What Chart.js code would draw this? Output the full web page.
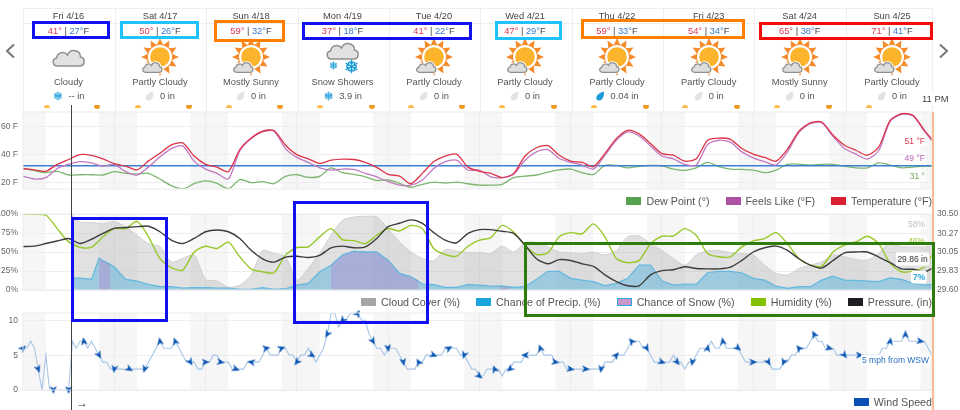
<!DOCTYPE html>
<html>
<head>
<meta charset="utf-8">
<script src="https://cdn.jsdelivr.net/npm/chart.js@4/dist/chart.umd.min.js"></script>
<style>
  html, body { margin: 0; padding: 0; background: #fff; }
  body { width: 960px; height: 410px; position: relative; overflow: hidden; font-family: "Liberation Sans", Arial, sans-serif; color: #555; }
  canvas { position: absolute; left: 0; }
  .abs { position: absolute; }
  .rule { position: absolute; background: #eeeeee; }
  .c { position: absolute; transform: translateX(-50%); white-space: nowrap; font-size: 9.3px; text-align: center; line-height: 12px; }
  .legend { position: absolute; right: 28px; display: flex; gap: 16px; font-size: 10.7px; line-height: 12px; white-space: nowrap; color: #555; }
  .legend span { display: flex; align-items: center; gap: 5px; }
  .legend i { display: block; width: 15px; height: 8px; box-sizing: border-box; }
  .tag { position: absolute; font-size: 8.5px; line-height: 11px; white-space: nowrap; background: rgba(255,255,255,.8); padding: 0 1px; transform: translateY(-50%); }
  .box { position: absolute; box-sizing: border-box; border: 3px solid; }
</style>
</head>
<body>
<script>
// top row
const days = ['Fri 4/16', 'Sat 4/17', 'Sun 4/18', 'Mon 4/19', 'Tue 4/20', 'Wed 4/21', 'Thu 4/22', 'Fri 4/23', 'Sat 4/24', 'Sun 4/25'];
const highs = [41, 50, 59, 37, 41, 47, 59, 54, 65, 71];
const lows = [27, 26, 32, 18, 22, 29, 33, 34, 38, 41];
const conditions = ['Cloudy', 'Partly Cloudy', 'Mostly Sunny', 'Snow Showers', 'Partly Cloudy', 'Partly Cloudy', 'Partly Cloudy', 'Partly Cloudy', 'Mostly Sunny', 'Partly Cloudy'];
const precip = ['-- in', '0 in', '0 in', '3.9 in', '0 in', '0 in', '0.04 in', '0 in', '0 in', '0 in'];
const precipKind = ['snow', 'none', 'none', 'snow', 'none', 'none', 'rain', 'none', 'none', 'none'];
const skyIcon = ['cloud', 'sun', 'sun', 'snow', 'sun', 'sun', 'sun', 'sun', 'sun', 'sun'];

// hours since midnight Fri, one reading every 3 hours
const hours = [0, 3, 6, 9, 12, 15, 18, 21, 24, 27,
  30, 33, 36, 39, 42, 45, 48, 51, 54, 57,
  60, 63, 66, 69, 72, 75, 78, 81, 84, 87,
  90, 93, 96, 99, 102, 105, 108, 111, 114, 117,
  120, 123, 126, 129, 132, 135, 138, 141, 144, 147,
  150, 153, 156, 159, 162, 165, 168, 171, 174, 177,
  180, 183, 186, 189, 192, 195, 198, 201, 204, 207,
  210, 213, 216, 219, 222, 225, 228, 231, 234, 237, 239];

const temperature = [30, 29, 28, 33, 36.5, 40, 39.5, 37, 33.5, 31.7,
  29, 35.5, 41, 47, 48.5, 39, 33, 31, 27.7, 43.7,
  52, 57, 57.4, 47, 40, 37, 33.7, 36, 36.8, 36.5,
  34.4, 30.8, 25.7, 24.5, 19, 26.5, 35, 39, 40.4, 31,
  28, 26.5, 23.4, 26.5, 39, 45, 46.6, 39.6, 35.3, 34.4,
  31.3, 40.8, 51.6, 57.6, 55, 48, 40.8, 39.6, 35.3, 37,
  50.4, 52, 51, 44.4, 40.4, 38, 35.3, 44, 57, 63,
  63.6, 54, 46.8, 43.2, 39.6, 45.6, 64.8, 69.6, 68.4, 57.6, 51];

const feelsLike = [24.3, 22.4, 23.4, 30, 33, 35, 34, 31.7, 33, 27.7,
  25.3, 31, 38.4, 44.4, 46.3, 35.3, 29.6, 26.5, 22.4, 42.8,
  51.6, 56.4, 57, 44.4, 38, 34.4, 30.5, 28.9, 29.6, 29.3,
  26.5, 24, 20.5, 18, 18, 21.7, 30, 34.9, 36, 28.9,
  28.9, 24, 23.4, 25.7, 36, 42, 43.7, 37.2, 34.4, 32.5,
  29.6, 39.6, 50.4, 56.4, 53.5, 46.3, 39, 37, 33, 32.5,
  47.3, 50.4, 49, 42, 37.7, 34.9, 32.5, 42, 56, 62.4,
  63, 53, 44.4, 40.4, 36.8, 43, 64, 69, 68, 57, 50];

const dewPoint = [30, 28.4, 27, 28, 25.3, 25.5, 25.5, 25.3, 27.7, 26.5,
  26, 26.5, 22.4, 17.6, 15.2, 19, 21, 19.3, 15.2, 22,
  19.8, 20.5, 19, 24.3, 25.5, 23.6, 24.3, 30.5, 27, 25.7,
  24, 21.4, 21.7, 19.3, 16.4, 18.6, 20.2, 19.5, 20.2, 19,
  18, 18, 18.6, 23.4, 24.5, 25.3, 27.4, 29, 29.6, 27,
  25.7, 32.2, 32.2, 30.5, 31.5, 32.2, 32, 29.6, 28.6, 30.5,
  34.4, 31.3, 29.6, 29.3, 28.9, 27, 28.9, 33, 33.2, 32.5,
  33, 33, 31.7, 30.5, 30.5, 34, 32.5, 30.5, 31, 31.7, 31.7];

const freezingHours = [0, 239];
const freezingLine = [32, 32];

const humidity = [100, 99.6, 98.7, 80.8, 63.3, 56.3, 56.3, 70, 81, 80.8,
  90.4, 70, 41.5, 29.3, 26.2, 50, 57.6, 54.6, 62.9, 43.7,
  27.5, 24, 22.7, 45.9, 55.9, 56.8, 69.9, 80.8, 66.4, 65,
  61, 72, 80.8, 77.7, 85, 80.8, 54.6, 46.7, 44.5, 57.6,
  65.5, 69, 85, 76.4, 59, 46.7, 49, 70, 75.5, 74,
  87, 70, 41.5, 36, 39, 61, 70.7, 71, 80.8, 72,
  48, 43.7, 43.7, 56.8, 64.6, 67.7, 75.5, 61, 41.5, 32.7,
  31.4, 50, 59, 63.3, 70.7, 61, 35, 24, 24.9, 30.6, 46];

const pressure = [30.115, 30.12, 30.15, 30.18, 30.21, 30.15, 30.2, 30.27, 30.33, 30.34,
  30.35, 30.355, 30.29, 30.19, 30.15, 30.21, 30.29, 30.31, 30.29, 30.21,
  30.07, 29.97, 29.93, 29.99, 30, 29.985, 30.01, 30.1, 30.12, 30.1,
  30.11, 30.21, 30.35, 30.39, 30.43, 30.39, 30.28, 30.19, 30.16, 30.27,
  30.315, 30.315, 30.295, 30.27, 30.13, 29.97, 29.91, 29.96, 29.95, 29.91,
  29.88, 29.78, 29.7, 29.65, 29.65, 29.78, 29.83, 29.84, 29.875, 29.855,
  29.85, 29.85, 29.87, 29.95, 30.05, 30.1, 30.12, 30.07, 29.97, 29.895,
  29.86, 29.95, 30.04, 30.05, 30.05, 29.99, 29.925, 29.85, 29.845, 29.815, 29.855];

// forecast series begin at the time marker
const forecastHours = [12.6, 15, 18, 20, 21, 24, 27,
  30, 33, 36, 39, 42, 45, 48, 51, 54, 57,
  60, 63, 66, 69, 72, 75, 78, 81, 84, 87,
  90, 93, 96, 99, 102, 105, 108, 111, 114, 117,
  120, 123, 126, 129, 132, 135, 138, 141, 144, 147,
  150, 153, 156, 159, 162, 165, 168, 171, 174, 177,
  180, 183, 186, 189, 192, 195, 198, 201, 204, 207,
  210, 213, 216, 219, 222, 225, 228, 231, 234, 237, 239];

const cloudCover = [99.6, 89.5, 88.6, 88, 87, 90, 83,
  72, 61, 57, 37, 41.5, 46, 14, 12, 3.5, 6.5,
  19.7, 52, 48, 43.7, 13, 28.4, 48, 72, 91.7, 96,
  97, 96, 81, 63, 50, 41.5, 38.4, 53, 51, 49.3,
  49.3, 48, 57.6, 50, 62.4, 62.4, 56.8, 50, 49, 48,
  50, 46, 52, 70, 71, 61, 52, 41.5, 32.7, 46,
  51.5, 52, 49, 48, 46, 32.7, 21.8, 19.7, 28.4, 32.7,
  37, 46, 43.7, 40, 39.3, 48, 63.3, 56.8, 56.8, 56.8, 57.6];

const precipChance = [15.7, 15.7, 14, 42, 38.4, 30.6, 14,
  11.8, 7.4, 4.4, 4.4, 2.6, 3, 3, 2.6, 2.6, 1,
  1, 3, 1, 1.7, 6.5, 8.7, 24, 32.7, 46, 51,
  50, 50, 39.3, 21.8, 17.5, 7.9, 7, 3.5, 3.5, 7,
  6.5, 5, 5, 3.5, 4.4, 14, 24.5, 24.5, 15.3, 13,
  11, 5.7, 8.7, 15.3, 32.7, 32.7, 11.8, 6.5, 7.9, 7.4,
  23, 24.5, 24.5, 22.7, 15.3, 13, 5, 2.2, 4.4, 4.4,
  13, 18.3, 13, 12.7, 11.8, 11, 16, 14, 8.7, 6.5, 7.4];

const snowHours = [20, 21, 23, 24, 81, 84, 87, 90, 93, 96, 99, 102, 104, 105, 125.5, 128];
const snowChance = [42, 38.4, 34, null, 32.7, 46, 51, 50, 50, 39.3, 21.8, 17.5, 12, null, 5, 4.5];

// hourly wind speed, one row per day
const windSpeed = [6, 6, 7, 6, 3, 0, 5, 0, 0, 0, 0, 0, 0, 7, 6, 7, 7, 6, 7, 6, 5, 4, 4, 3,
  3, 3, 3, 3, 3, 3, 3, 3, 3, 4, 5, 6, 7, 6, 6, 6, 7, 6, 5, 4, 4, 4, 3, 3,
  4, 4, 5, 5, 4, 4, 4, 3, 3, 3, 3, 4, 4, 4, 4, 5, 6, 5, 5, 5, 6, 6, 5, 5,
  4, 5, 5, 6, 5, 4, 5, 6, 8, 11, 11, 9, 10, 10, 11, 11, 11, 10, 10, 8, 7, 6, 6, 5,
  6, 6, 6, 5, 4, 3, 3, 3, 4, 4, 5, 5, 5, 5, 5, 6, 6, 6, 6, 5, 5, 4, 3, 3,
  2, 2, 3, 3, 3, 3, 2, 3, 3, 4, 4, 4, 5, 5, 5, 5, 6, 5, 5, 5, 4, 4, 4, 3,
  3, 3, 3, 3, 3, 3, 3, 3, 3, 4, 4, 4, 5, 5, 5, 6, 7, 7, 7, 6, 6, 5, 4, 4,
  4, 4, 4, 5, 4, 4, 3, 4, 4, 5, 6, 6, 6, 7, 6, 6, 7, 6, 6, 6, 6, 5, 4, 4,
  4, 4, 4, 4, 4, 3, 3, 3, 4, 4, 5, 5, 6, 6, 6, 7, 8, 7, 7, 6, 6, 6, 5, 5,
  5, 5, 5, 5, 5, 5, 5, 5, 5, 5, 6, 6, 7, 7, 7, 7, 8, 7, 7, 7, 7, 7, 6, 5];

// arrow heading every 4 hours, degrees clockwise from up
const windHeading = [45, 160, 180, 180, 350, 150, 190, 120, 200, 350, 340, 150,
  90, 100, 110, 280, 80, 70, 220, 120, 210, 220, 30, 150,
  170, 170, 330, 110, 60, 200, 130, 340, 230, 270, 340, 100,
  100, 95, 190, 40, 320, 150, 110, 140, 190, 10, 350, 130,
  90, 150, 200, 320, 330, 105, 140, 90, 90, 10, 0, 100];

const dayStarts = [24, 48, 72, 96, 120, 144, 168, 192, 216];
const nightBands = [[0, 6], [20, 30], [44, 54], [68, 78], [92, 102], [116, 126], [140, 150], [164, 174], [188, 198], [212, 222], [236, 239]];
const tempTicks = [20, 40, 60];
const pctTicks = [0, 25, 50, 75, 100];
const pressTicks = [29.6, 29.83, 30.05, 30.27, 30.5];
const windTicks = [0, 5, 10];

const zip = (xs, ys) => xs.map((x, i) => ({ x, y: ys[i] }));
const TICK = { size: 8.5, family: '"Liberation Sans", Arial, sans-serif' };

const nightPlugin = {
  id: 'night',
  beforeDraw(chart) {
    const { ctx, chartArea: a, scales: { x } } = chart;
    ctx.save();
    ctx.fillStyle = '#f6f6f6';
    nightBands.forEach(([from, to]) => {
      const l = x.getPixelForValue(from);
      ctx.fillRect(l, a.top, x.getPixelForValue(to) - l, a.bottom - a.top);
    });
    ctx.restore();
  },
  afterDraw(chart) {
    const { ctx, chartArea: a } = chart;
    ctx.save();
    ctx.strokeStyle = '#ececec';
    ctx.strokeRect(a.left, a.top, a.right - a.left, a.bottom - a.top);
    ctx.restore();
  }
};

function yAxis(min, max, ticks, format, position, width) {
  return {
    position, min, max,
    afterBuildTicks: s => { s.ticks = ticks.map(value => ({ value })); },
    // keep the plot box exact, labels overhang into the canvas margin
    afterFit: s => { s.width = width; s.paddingTop = 0; s.paddingBottom = 0; },
    border: { display: false },
    grid: { color: '#eeeeee', drawTicks: false, display: position === 'left' },
    ticks: { padding: 5, color: '#666', font: TICK, callback: format }
  };
}

function makeChart(top, height, datasets, scales) {
  const canvas = document.createElement('canvas');
  canvas.width = 960;
  canvas.height = height + 16;
  canvas.style.top = (top - 8) + 'px';
  document.body.appendChild(canvas);
  return new Chart(canvas, {
    type: 'line',
    data: { datasets },
    plugins: [nightPlugin],
    options: {
      responsive: false,
      animation: false,
      layout: { padding: { top: 8, bottom: 8, right: scales.y1 ? 0 : 28 } },
      elements: { point: { radius: 0 }, line: { tension: 0.25 } },
      plugins: { legend: { display: false }, tooltip: { enabled: false } },
      scales: Object.assign({
        x: {
          type: 'linear', min: 0, max: 239,
          afterBuildTicks: s => { s.ticks = dayStarts.map(value => ({ value })); },
          afterFit: s => { s.height = 0; s.paddingLeft = 0; s.paddingRight = 0; },
          border: { display: false },
          grid: { color: '#ececec', drawTicks: false },
          ticks: { display: false }
        }
      }, scales)
    }
  });
}

// temperature panel
makeChart(112, 77, [
  { data: zip(hours, temperature), borderColor: '#dc3349', borderWidth: 1.3 },
  { data: zip(hours, feelsLike), borderColor: '#c178c1', borderWidth: 1.3 },
  { data: zip(freezingHours, freezingLine), borderColor: '#3a7fd0', borderWidth: 1.5 },
  { data: zip(hours, dewPoint), borderColor: '#7bb56e', borderWidth: 1.3 }
], { y: yAxis(15.2, 70.8, tempTicks, v => v + ' F', 'left', 23) });

// sky panel
makeChart(214, 76, [
  { data: zip(hours, pressure), yAxisID: 'y1', borderColor: '#3c3c3c', borderWidth: 1.4 },
  { data: zip(hours, humidity), borderColor: '#97c82a', borderWidth: 1.4 },
  { data: zip(snowHours, snowChance), borderColor: '#62b8de', borderWidth: 1, fill: 'origin', backgroundColor: 'rgba(185,130,205,.38)', tension: 0 },
  { data: zip(forecastHours, precipChance), borderColor: '#62b8de', borderWidth: 1.2, fill: 'origin', backgroundColor: 'rgba(90,180,220,.5)', tension: 0 },
  { data: zip(forecastHours, cloudCover), borderColor: '#d0d0d0', borderWidth: 1, fill: 'origin', backgroundColor: 'rgba(170,170,170,.35)' }
], {
  y: yAxis(0, 100, pctTicks, v => v + '%', 'left', 23),
  y1: yAxis(29.6, 30.5, pressTicks, v => v.toFixed(2), 'right', 28)
});

// navigation arrow drawn once, rotated per point by the library
const arrow = document.createElement('canvas');
arrow.width = arrow.height = 8;
const actx = arrow.getContext('2d');
actx.fillStyle = '#0c57b3';
actx.beginPath();
actx.moveTo(4, 0); actx.lineTo(7.5, 8); actx.lineTo(4, 5.8); actx.lineTo(0.5, 8);
actx.closePath();
actx.fill();

// wind panel
const windHours = windSpeed.map((v, h) => h);
const arrowHours = windHours.filter(h => h % 4 === 0 && h < 224 || h === 228 || h === 232 || h === 236);
const arrowHeadings = windHeading.filter((v, i) => i !== 56);
makeChart(313, 77, [
  {
    data: zip(arrowHours, arrowHours.map(h => windSpeed[h])), showLine: false, clip: false,
    pointStyle: arrow, pointRadius: 4, pointRotation: c => arrowHeadings[c.dataIndex]
  },
  { data: zip(windHours, windSpeed), borderColor: '#a9c6e6', borderWidth: 1.1, tension: 0 }
], { y: yAxis(0, 11.05, windTicks, v => v, 'left', 23) });

// html layer ----------------------------------------------------------
function add(cls, css, html) {
  const el = document.createElement('div');
  el.className = cls;
  el.style.cssText = css;
  if (html !== undefined) el.innerHTML = html;
  document.body.appendChild(el);
  return el;
}

const cloudPath = 'M7 19C2 19 1 12 6 11C7 5 14 4 17 8C20 1 30 3 30 10C35 11 35 19 29 19Z';
function flake(size, color) {
  let arms = '';
  for (let a = 0; a < 180; a += 60) {
    arms += `<g transform="rotate(${a} 10 10)"><path d="M10 1V19M7 3.5L10 6L13 3.5M7 16.5L10 14L13 16.5" fill="none" stroke="${color}" stroke-width="1.8"/></g>`;
  }
  return `<svg width="${size}" height="${size}" viewBox="0 0 20 20" style="display:block">${arms}</svg>`;
}
function sunSvg() {
  let rays = '';
  for (let a = 0; a < 12; a++) {
    rays += `<path d="M25 2L30.5 14H19.5Z" fill="#f58b2b" transform="rotate(${a * 30} 25 21)"/>`;
  }
  return `<svg width="50" height="42" style="display:block">${rays}
    <circle cx="25" cy="21" r="12" fill="#fff"/><circle cx="25" cy="21" r="9.8" fill="#fbb42c"/>
    <g transform="translate(6 24.5) scale(.62)"><path d="${cloudPath}" fill="#fff" stroke="#fff" stroke-width="5"/><path d="${cloudPath}" fill="#dedede" stroke="#8f8f8f" stroke-width="2"/></g></svg>`;
}
function dropSvg(color) {
  return `<svg width="9" height="10" style="display:block"><path d="M8.5 .5C8.5 6 7 9.5 3.5 9.5C1.2 9.5 .2 7.5 1 5.5C2 3 5 1.5 8.5 .5Z" fill="${color}"/></svg>`;
}

// card frame
const cardX = [23, 115, 206, 298, 389, 480, 572, 663, 754, 846, 932];
const cardMid = [68.5, 160, 251, 342.5, 434, 525, 617, 708.7, 799.7, 892];
add('rule', 'left:23px;top:8px;width:909px;height:1px');
add('rule', 'left:23px;top:23px;width:909px;height:1px');
cardX.forEach(x => add('rule', `left:${x}px;top:8px;width:1px;height:104px`));

days.forEach((d, i) => {
  const mid = cardMid[i];
  add('c', `left:${mid}px;top:10px;color:#444`, d);
  add('c', `left:${mid}px;top:24.5px;color:#444`,
    `<span style="color:#d9384e">${highs[i]}°</span> | <span style="color:#3b79c9">${lows[i]}°</span>F`);
  if (skyIcon[i] === 'sun') {
    add('abs', `left:${mid - 25}px;top:36px`, sunSvg());
  } else {
    const t = skyIcon[i] === 'cloud' ? 47 : 40;
    add('abs', `left:${mid - 18.5}px;top:${t}px`,
      `<svg width="37" height="20" viewBox="0 0 36 20" style="display:block"><path d="${cloudPath}" fill="#e2e2e2" stroke="#8f8f8f" stroke-width="1.5"/></svg>`);
    if (skyIcon[i] === 'snow') {
      add('abs', `left:${mid + 1}px;top:59px`, flake(15, '#1a9ad6'));
      add('abs', `left:${mid - 14}px;top:61px`, flake(9, '#1a9ad6'));
    }
  }
  add('c', `left:${mid}px;top:76px;color:#555`, conditions[i]);
  const mark = precipKind[i] === 'snow' ? flake(10, '#35a7de') : dropSvg(precipKind[i] === 'rain' ? '#1b9bd8' : '#e3e3e3');
  add('c', `left:${mid}px;top:90px;display:flex;align-items:center;gap:6px;color:#555`, mark + `<span>${precip[i]}</span>`);
});

add('abs', 'left:4px;top:43px', '<svg width="12" height="16"><path d="M10 1.5L3 8L10 14.5" fill="none" stroke="#777" stroke-width="2"/></svg>');
add('abs', 'left:938px;top:43px', '<svg width="12" height="16"><path d="M2 1.5L9 8L2 14.5" fill="none" stroke="#777" stroke-width="2"/></svg>');

// sunrise / sunset marks
[46.5, 137.5, 228.5, 320, 411.3, 502, 594, 685, 777, 869].forEach(x =>
  add('abs', `left:${x - 3}px;top:105px;width:6px;height:3px;background:#fdb944;border-radius:3px 3px 0 0`));
[97, 188.5, 280, 371.7, 462.3, 554, 646, 737, 829].forEach(x =>
  add('abs', `left:${x - 3}px;top:105px;width:6px;height:3.5px;background:#ec9a1c;border-radius:1px 1px 3px 3px`));

// time marker, end of range
add('abs', 'left:71px;top:105px;width:1px;height:305px;background:#444');
add('abs', 'left:932px;top:112px;width:1.5px;height:298px;background:#f8bc90');
add('abs', 'left:76px;top:396px;font-size:12px;line-height:14px;color:#333', '→');
add('abs', 'left:921px;top:93px;font-size:9.5px;line-height:12px;color:#444;background:rgba(255,255,255,.85);padding:0 1px', '11 PM');

// legends
function legend(top, items) {
  add('legend', `top:${top}px`, items.map(([label, fill, edge]) =>
    `<span><i style="background:${fill};${edge ? 'border:1.5px solid ' + edge : ''}"></i>${label}</span>`).join(''));
}
legend(195, [['Dew Point (°)', '#58a14e'], ['Feels Like (°F)', '#ad51a3'], ['Temperature (°F)', '#d8202f']]);
legend(296, [['Cloud Cover (%)', '#a6a6a6'], ['Chance of Precip. (%)', '#1aa6dc'], ['Chance of Snow (%)', '#c896c8', '#2aa9e0'], ['Humidity (%)', '#82c000'], ['Pressure. (in)', '#1d1f24']]);
legend(396, [['Wind Speed', '#0a50b4']]);

// end-of-range value tags
add('tag', 'right:34px;top:141px;color:#d9384e', '51 °F');
add('tag', 'right:34px;top:158px;color:#b565b5', '49 °F');
add('tag', 'right:34px;top:176px;color:#6aa95a', '31 °');
add('tag', 'right:34px;top:224px;color:#bdbdbd', '58%');
add('tag', 'right:34px;top:241px;color:#97c82a', '46%');
add('tag', 'left:895px;top:259px;width:33px;text-align:center;color:#333;background:rgba(255,255,255,.92);border:1px solid #e3e3e3;border-radius:3px;padding:1px 0', '29.86 in');
add('tag', 'right:33px;top:277px;color:#2ba9e0;font-weight:bold;background:#fff;padding:1px 2px;border-radius:3px', '7%');
add('tag', 'left:861px;top:360px;color:#2a6fc0;background:rgba(255,255,255,.9)', '5 mph from WSW');

// hand-drawn highlight boxes on the screenshot
const boxes = [
  [32, 21, 78, 18, '#1010f0'], [120, 21, 79, 18, '#1fc4ff'], [214, 20, 71, 22, '#ff8000'],
  [302, 22, 170, 18, '#1010f0'], [495, 21, 67, 19, '#1fc4ff'], [581, 19, 164, 20, '#ff8000'],
  [759, 22, 174, 18, '#f50a0a'],
  [71, 217, 97, 105, '#1010f0'], [293, 201, 136, 123, '#1010f0'], [524, 242, 411, 75, '#2e7d0c']
];
boxes.forEach(([l, t, w, h, c]) => add('box', `left:${l}px;top:${t}px;width:${w}px;height:${h}px;border-color:${c}`));
</script>
</body>
</html>
